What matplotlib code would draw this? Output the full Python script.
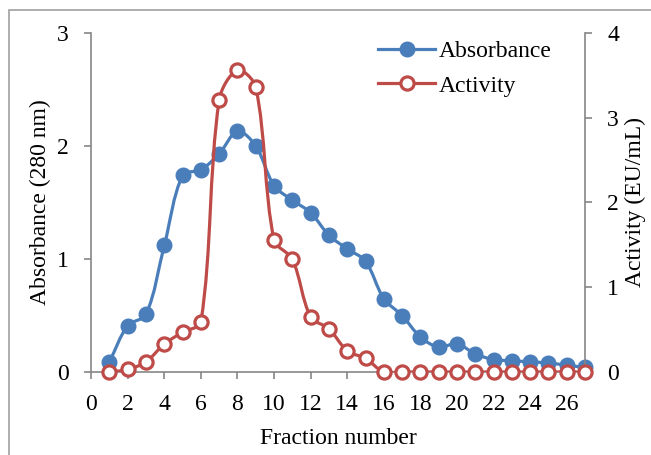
import matplotlib
matplotlib.use('Agg')
import matplotlib.pyplot as plt
import numpy as np
from matplotlib.path import Path
from matplotlib.patches import PathPatch, Rectangle
from matplotlib.lines import Line2D

# fraction data
fractions = list(range(1, 28))
absorbance = [0.09, 0.41, 0.51, 1.12, 1.74, 1.79, 1.93, 2.13, 2.00, 1.65,
              1.52, 1.41, 1.21, 1.09, 0.98, 0.65, 0.50, 0.31, 0.22, 0.25,
              0.16, 0.11, 0.10, 0.09, 0.08, 0.06, 0.04]
activity = [0.00, 0.03, 0.12, 0.33, 0.47, 0.59, 3.21, 3.56, 3.36, 1.56,
            1.33, 0.65, 0.51, 0.25, 0.16, 0.0, 0.0, 0.0, 0.0, 0.0,
            0.0, 0.0, 0.0, 0.0, 0.0, 0.0, 0.0]
x_ticks = list(range(0, 27, 2))

blue = '#4A7EBB'
red = '#BE4B48'
grey = '#868686'

plt.rcParams['font.family'] = ['Liberation Serif', 'DejaVu Serif']
plt.rcParams['font.size'] = 17


def smooth_path(a, xs, ys):
    # Excel-like smoothed line: bezier segments, control points weighted by
    # segment lengths measured on screen
    p = np.column_stack([xs, ys]).astype(float)
    s = a.transData.transform(p)
    n = len(p)
    d = np.hypot(*np.diff(s, axis=0).T)
    verts = [p[0]]
    codes = [Path.MOVETO]
    for i in range(n - 1):
        if i > 0:
            t0 = (p[i + 1] - p[i - 1]) * d[i] / (d[i - 1] + d[i]) / 3
        else:
            t0 = (p[i + 1] - p[i]) / 3
        if i + 2 < n:
            t1 = (p[i + 2] - p[i]) * d[i] / (d[i] + d[i + 1]) / 3
        else:
            t1 = (p[i + 1] - p[i]) / 3
        verts += [p[i] + t0, p[i + 1] - t1, p[i + 1]]
        codes += [Path.CURVE4] * 3
    return Path(verts, codes)


fig = plt.figure(figsize=(6.51, 4.55), dpi=100)
ax = fig.add_axes([0.14, 0.1824, 0.7586, 0.7451])
ax2 = ax.twinx()

ax.set_xlim(0, 27)
ax.set_ylim(0, 3)
ax2.set_ylim(0, 4)
ax.set_xticks(x_ticks)
ax.set_yticks([0, 1, 2, 3])
ax2.set_yticks([0, 1, 2, 3, 4])

fig.patches.append(Rectangle((9 / 651, -0.1), 1.2, 1.1 - 10 / 455, transform=fig.transFigure,
                             fill=False, edgecolor='#a0a0a0', linewidth=1.2))

ax.add_patch(PathPatch(smooth_path(ax, fractions, absorbance), fill=False, edgecolor=blue,
                       linewidth=2.3, capstyle='round', joinstyle='round'))
ax.plot(fractions, absorbance, linestyle='none', marker='o', markersize=10.5,
        color=blue, clip_on=False, zorder=3)

ax2.add_patch(PathPatch(smooth_path(ax2, fractions, activity), fill=False, edgecolor=red,
                        linewidth=2.3, capstyle='round', joinstyle='round'))
ax2.plot(fractions, activity, linestyle='none', marker='o', markersize=9.5,
         markerfacecolor='white', markeredgecolor=red, markeredgewidth=2.3,
         clip_on=False, zorder=3)

for a in (ax, ax2):
    a.spines['top'].set_visible(False)
    for s in ('left', 'right', 'bottom'):
        a.spines[s].set_color(grey)
        a.spines[s].set_linewidth(1.2)
    a.tick_params(colors=grey, labelcolor='black', width=1.2, length=5, labelsize=17, pad=11)
ax.spines['right'].set_visible(False)
ax2.spines['left'].set_visible(False)
ax2.spines['bottom'].set_visible(False)

ax.set_xlabel('Fraction number', fontsize=17, labelpad=9)
ax.set_ylabel('Absorbance (280 nm)', fontsize=17, labelpad=4)
ax2.set_ylabel('Activity (EU/mL)', fontsize=17, labelpad=4)

handles = [
    Line2D([], [], color=blue, linewidth=2.3, marker='o', markersize=10.5),
    Line2D([], [], color=red, linewidth=2.3, marker='o', markersize=9.5,
           markerfacecolor='white', markeredgecolor=red, markeredgewidth=2.3),
]
ax2.legend(handles, ['Absorbance', 'Activity'], loc='upper right',
           bbox_to_anchor=(0.975, 1.04), frameon=False, fontsize=17,
           handlelength=2.4, handletextpad=0.15, labelspacing=0.55)

fig.savefig('out.png', dpi=100)
